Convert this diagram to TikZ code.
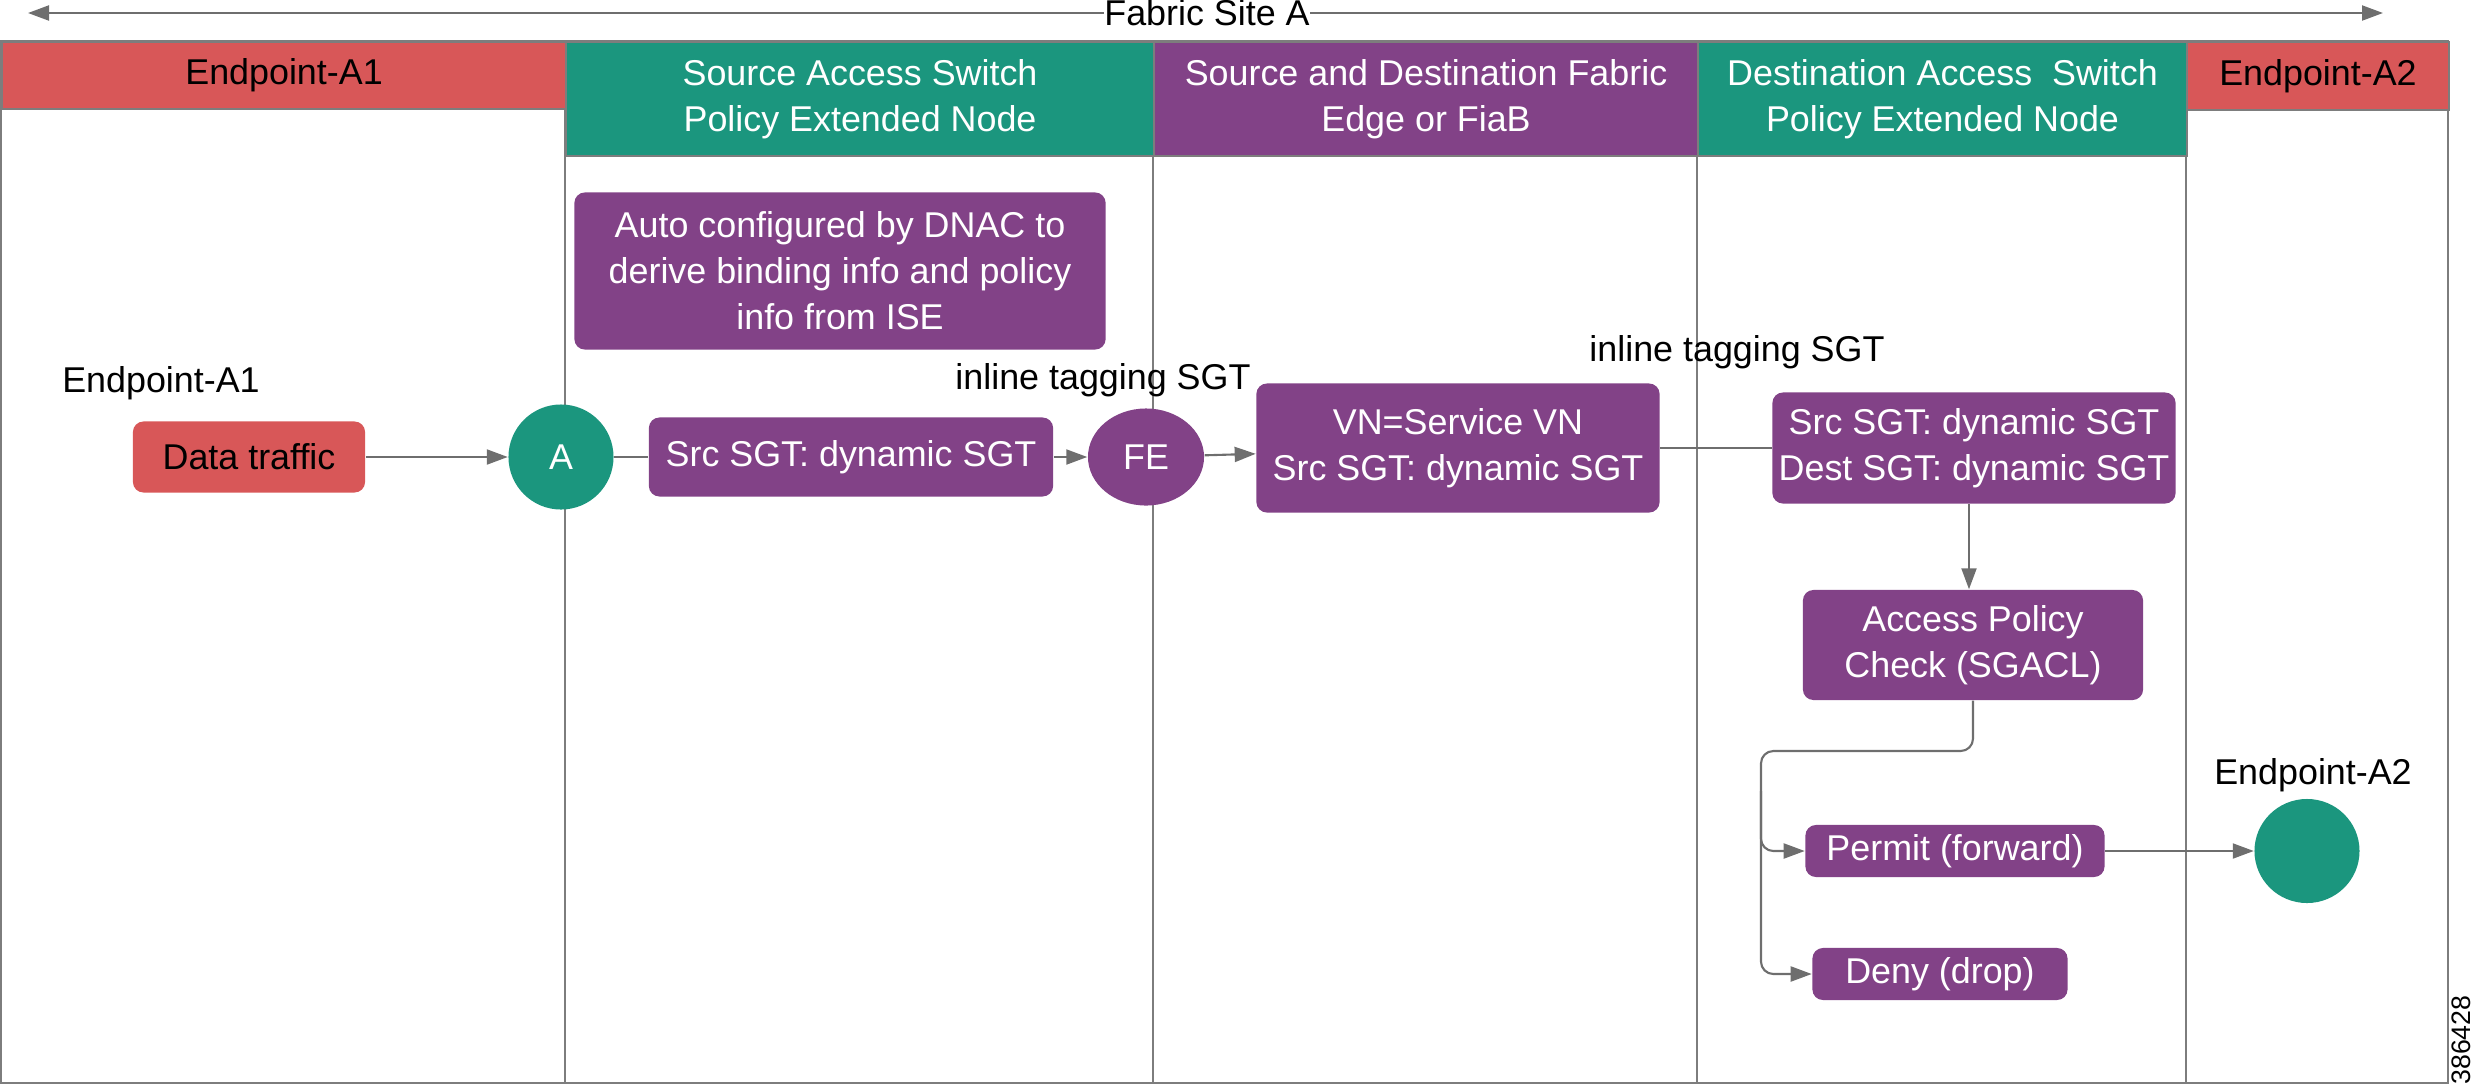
\documentclass[tikz,border=0pt]{standalone}
\usepackage{fontspec}
\setmainfont{Liberation Sans}
\usetikzlibrary{positioning,arrows.meta,shapes.geometric,calc}
\newcommand\dfont{\fontsize{10.2pt}{13.1pt}\selectfont}
\definecolor{epred}{RGB}{216,87,88}
\definecolor{swteal}{RGB}{27,150,126}
\definecolor{fabpurple}{RGB}{130,66,135}
\definecolor{wire}{RGB}{110,110,110}
\definecolor{frame}{RGB}{125,125,125}
\tikzset{
  hdr/.style={draw=frame, line width=0.5pt, fill=#1, text=white, align=center, inner sep=0pt, anchor=north west, font=\dfont},
  hdr/.default={swteal},
  pbox/.style={fill=#1, rounded corners=3pt, text=white, align=center, inner sep=0pt, font=\dfont},
  pbox/.default={fabpurple},
  dot/.style={ellipse, fill=#1, text=white, inner sep=0pt, font=\dfont},
  dot/.default={swteal},
  arrow/.style={-{Triangle[length=2.1mm,width=1.5mm]}, line width=0.6pt, draw=wire},
  link/.style={line width=0.6pt, draw=wire},
  lbl/.style={font=\dfont, text=black, inner sep=0pt},
  lane/.style={draw=frame, line width=0.5pt}
}

\begin{document}
\begin{tikzpicture}[x=0.01cm, y=-0.01cm]
        \useasboundingbox (0,0) rectangle (2480,1087);
        % lanes
        \draw[lane] (1,41) rectangle (2448,1083);
        \foreach \x in {565,1153,1697,2186}
          \draw[lane] (\x,41) -- (\x,1083);
        \node[hdr=epred, text=black, minimum width=5.64cm, minimum height=0.67cm] (hdrA1) at (1,41) {Endpoint-A1};
        \node[hdr, minimum width=5.88cm, minimum height=1.14cm] (hdrSrc) at (565,41) {Source Access Switch\\Policy Extended Node};
        \node[hdr=fabpurple, minimum width=5.44cm, minimum height=1.14cm] (hdrFab) at (1153,41) {Source and Destination Fabric\\Edge or FiaB};
        \node[hdr, minimum width=4.89cm, minimum height=1.14cm] (hdrDst) at (1697,41) {Destination Access~ Switch\\Policy Extended Node};
        \node[hdr=epred, text=black, minimum width=2.62cm, minimum height=0.68cm] (hdrA2) at (2186,41) {Endpoint-A2};
        % site span
        \node[lbl] (site) at (1207,13) {Fabric Site A};
        \coordinate (siteL) at (28,13);
        \coordinate (siteR) at (2383,13);
        \draw[arrow] (site) -- (siteL);
        \draw[arrow] (site) -- (siteR);
        % flow
        \node[lbl] (lblA1) at (161,383) {Endpoint-A1};
        \node[pbox=epred, text=black, minimum width=2.32cm, minimum height=0.71cm] (traffic) at (249,457) {Data traffic};
        \node[dot, minimum width=1.05cm, minimum height=1.05cm] (nodeA) at (561,457) {A};
        \node[pbox, minimum width=5.31cm, minimum height=1.57cm] (autocfg) at (840,271) {Auto configured by DNAC to\\derive binding info and policy\\info from ISE};
        \node[pbox, minimum width=4.04cm, minimum height=0.79cm] (srcsgt) at (851,457) {Src SGT: dynamic SGT};
        \node[lbl] (tagFE) at (1103,380) {inline tagging SGT};
        \node[dot=fabpurple, minimum width=1.16cm, minimum height=0.97cm] (fe) at (1146,457) {FE};
        \node[pbox, minimum width=4.03cm, minimum height=1.29cm] (vn) at (1458,448) {VN=Service VN\\Src SGT: dynamic SGT};
        \node[lbl] (tagDst) at (1737,352) {inline tagging SGT};
        \node[pbox, minimum width=4.03cm, minimum height=1.11cm] (sgts) at (1974,448) {Src SGT: dynamic SGT\\Dest SGT: dynamic SGT};
        \node[pbox, minimum width=3.40cm, minimum height=1.10cm] (acl) at (1973,645) {Access Policy\\Check (SGACL)};
        \node[pbox, minimum width=2.99cm, minimum height=0.52cm] (permit) at (1955,851) {Permit (forward)};
        \node[pbox, minimum width=2.55cm, minimum height=0.52cm] (deny) at (1940,974) {Deny (drop)};
        \node[lbl] (lblA2) at (2313,775) {Endpoint-A2};
        \node[dot, minimum width=1.05cm, minimum height=1.04cm] (epA2) at (2307,851) {};
        \node[rotate=90, inner sep=0pt, font=\fontsize{7.6pt}{9pt}\selectfont] (figid) at (2461,1040) {386428};
        \coordinate (fork) at (1761,751);
        \draw[arrow] (traffic) -- (nodeA);
        \draw[link] (nodeA) -- (srcsgt);
        \draw[arrow] (srcsgt) -- (fe);
        \draw[arrow] (fe) -- (vn);
        \draw[link] (vn) -- (sgts);
        \draw[arrow] ([xshift=-0.05cm]sgts.south) -- ([xshift=-0.05cm]sgts.south |- acl.north);
        \draw[arrow, rounded corners=3.5pt] (acl.south) |- (fork) |- (permit.west);
        \draw[arrow, rounded corners=3.5pt] ([yshift=-0.4cm]fork) |- (deny.west);
        \draw[arrow] (permit) -- (epA2);
      \end{tikzpicture}
\end{document}
